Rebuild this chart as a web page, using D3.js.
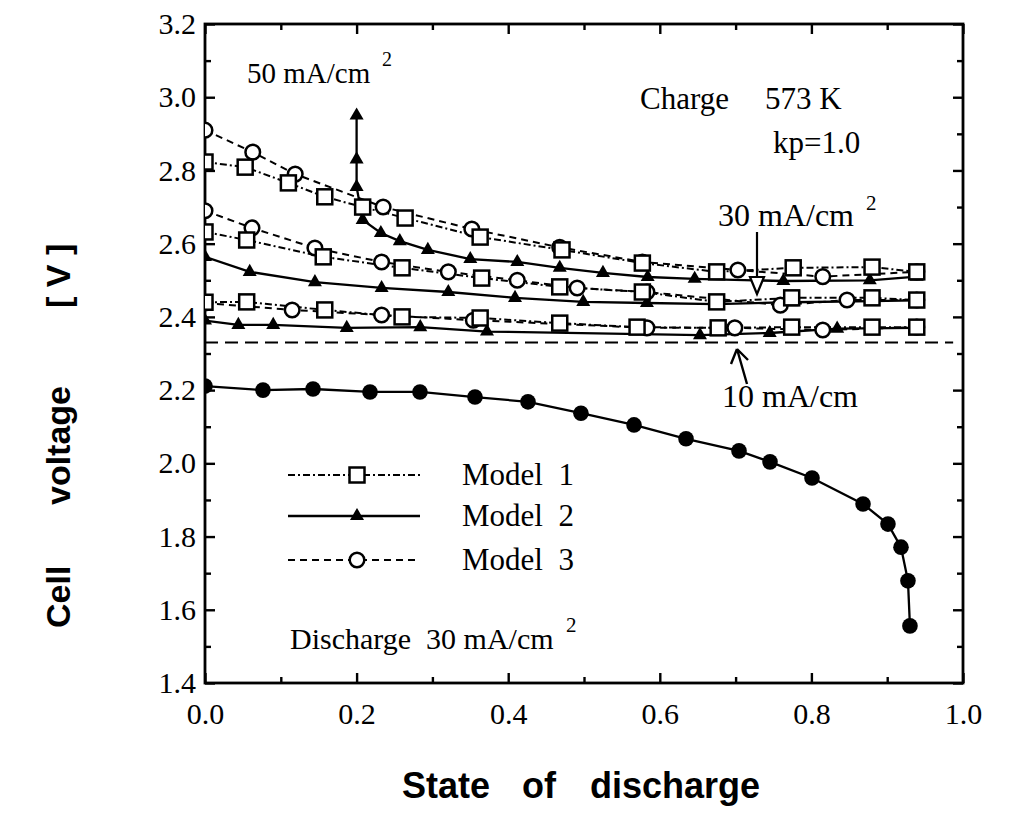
<!DOCTYPE html>
<html><head><meta charset="utf-8">
<script src="https://cdn.jsdelivr.net/npm/d3@7"></script>
<style>body{margin:0;background:#fff}svg{display:block}text{white-space:pre}</style>
</head><body>
<svg id="c" width="1010" height="828"></svg>
<script>
// ---- data ----
const xMajorTicks = [0, 0.2, 0.4, 0.6, 0.8, 1.0];
const xMinorTicks = [0.1, 0.3, 0.5, 0.7, 0.9];
const yMajorTicks = [1.4, 1.6, 1.8, 2.0, 2.2, 2.4, 2.6, 2.8, 3.0, 3.2];
const yMinorTicks = [1.5, 1.7, 1.9, 2.1, 2.3, 2.5, 2.7, 2.9, 3.1];

// Model 1 (squares, dash-dot)
const m1_50 = [[0,2.823],[0.053,2.809],[0.11,2.766],[0.158,2.728],[0.208,2.70],[0.264,2.67],[0.363,2.618],[0.471,2.583],[0.577,2.547],[0.675,2.523],[0.776,2.534],[0.880,2.536],[0.939,2.523]];
const m1_30 = [[0,2.632],[0.055,2.61],[0.156,2.564],[0.26,2.534],[0.365,2.506],[0.468,2.482],[0.577,2.468],[0.675,2.441],[0.774,2.452],[0.880,2.452],[0.939,2.446]];
const m1_10 = [[0,2.44],[0.055,2.441],[0.158,2.419],[0.26,2.40],[0.363,2.397],[0.468,2.383],[0.57,2.372],[0.677,2.37],[0.774,2.372],[0.88,2.372],[0.939,2.372]];
// Model 2 (triangles, solid)
const m2_50 = [[0.2,2.95],[0.2,2.83],[0.2,2.755],[0.208,2.665],[0.232,2.629],[0.257,2.607],[0.294,2.583],[0.350,2.558],[0.412,2.55],[0.468,2.534],[0.525,2.52],[0.584,2.509],[0.646,2.504],[0.763,2.498],[0.877,2.50],[0.939,2.51]];
const m2_30 = [[0,2.564],[0.059,2.523],[0.145,2.495],[0.233,2.479],[0.321,2.468],[0.409,2.452],[0.499,2.441],[0.583,2.438],[0.675,2.435],[0.774,2.44],[0.880,2.443],[0.939,2.445]];
const m2_10 = [[0,2.39],[0.044,2.378],[0.09,2.378],[0.187,2.37],[0.284,2.372],[0.372,2.36],[0.653,2.35],[0.745,2.356],[0.834,2.368],[0.939,2.37]];
// Model 3 (circles, dashed)
const m3_50 = [[0,2.91],[0.063,2.85],[0.119,2.79],[0.235,2.70],[0.352,2.64],[0.468,2.59],[0.577,2.55],[0.703,2.528],[0.815,2.51],[0.939,2.523]];
const m3_30 = [[0,2.69],[0.062,2.643],[0.145,2.588],[0.233,2.55],[0.321,2.523],[0.412,2.50],[0.491,2.479],[0.583,2.468],[0.759,2.432],[0.847,2.446],[0.939,2.446]];
const m3_10 = [[0,2.438],[0.115,2.419],[0.233,2.405],[0.354,2.391],[0.583,2.37],[0.699,2.37],[0.815,2.364],[0.939,2.372]];
// Discharge 30 mA/cm2 (filled circles, solid)
const discharge = [[0,2.211],[0.0765,2.20],[0.1425,2.203],[0.2177,2.195],[0.2836,2.195],[0.3562,2.181],[0.4261,2.168],[0.496,2.137],[0.566,2.105],[0.6346,2.067],[0.7045,2.034],[0.7454,2.004],[0.8008,1.96],[0.8681,1.889],[0.901,1.834],[0.9182,1.771],[0.9274,1.679],[0.930,1.556]];
// horizontal dashed reference line
const refLine = [[0,2.33],[0.987,2.33]];

const legendLabels = ["Model  1", "Model  2", "Model  3"];

// ---- drawing ----
const svg = d3.select("#c");
const X0 = 205, X1 = 963, Y0 = 683, Y1 = 24;
const x = d3.scaleLinear().domain([0, 1]).range([X0, X1]);
const y = d3.scaleLinear().domain([1.4, 3.2]).range([Y0, Y1]);

const serif = "'Liberation Serif','Times New Roman',serif";
const sans = "'Liberation Sans',Arial,sans-serif";

svg.append("defs").append("clipPath").attr("id","clip")
  .append("rect").attr("x",X0).attr("y",Y1).attr("width",X1-X0).attr("height",Y0-Y1);

function styleAxis(g){ g.select(".domain").remove(); g.selectAll("line").attr("stroke","#000").attr("stroke-width",2.4);
  g.selectAll("text").attr("font-family",serif).attr("font-size",30).attr("fill","#000"); }
svg.append("g").attr("transform",`translate(0,${Y0})`)
  .call(d3.axisBottom(x).tickValues(xMajorTicks).tickSizeInner(-10).tickSizeOuter(0).tickPadding(20).tickFormat(d3.format(".1f"))).call(styleAxis);
svg.append("g").attr("transform",`translate(0,${Y0})`)
  .call(d3.axisBottom(x).tickValues(xMinorTicks).tickSizeInner(-6).tickSizeOuter(0).tickFormat("")).call(styleAxis);
svg.append("g").attr("transform",`translate(0,${Y1})`)
  .call(d3.axisTop(x).tickValues(xMajorTicks).tickSizeInner(-10).tickSizeOuter(0).tickFormat("")).call(styleAxis);
svg.append("g").attr("transform",`translate(0,${Y1})`)
  .call(d3.axisTop(x).tickValues(xMinorTicks).tickSizeInner(-6).tickSizeOuter(0).tickFormat("")).call(styleAxis);
svg.append("g").attr("transform",`translate(${X0},0)`)
  .call(d3.axisLeft(y).tickValues(yMajorTicks).tickSizeInner(-10).tickSizeOuter(0).tickPadding(9).tickFormat(d3.format(".1f"))).call(styleAxis);
svg.append("g").attr("transform",`translate(${X0},0)`)
  .call(d3.axisLeft(y).tickValues(yMinorTicks).tickSizeInner(-6).tickSizeOuter(0).tickFormat("")).call(styleAxis);
svg.append("g").attr("transform",`translate(${X1},0)`)
  .call(d3.axisRight(y).tickValues(yMajorTicks).tickSizeInner(-10).tickSizeOuter(0).tickFormat("")).call(styleAxis);
svg.append("g").attr("transform",`translate(${X1},0)`)
  .call(d3.axisRight(y).tickValues(yMinorTicks).tickSizeInner(-6).tickSizeOuter(0).tickFormat("")).call(styleAxis);

svg.append("rect").attr("x",X0).attr("y",Y1).attr("width",X1-X0).attr("height",Y0-Y1)
  .attr("fill","none").attr("stroke","#000").attr("stroke-width",2.8);

const line = d3.line().x(d=>x(d[0])).y(d=>y(d[1]));
const plot = svg.append("g").attr("clip-path","url(#clip)");

const DASHDOT = "7,3,2,3", DASH = "7,5";
const series = [
  {data:m1_50, dash:DASHDOT, w:2, mk:"sq"},{data:m1_30, dash:DASHDOT, w:2, mk:"sq"},{data:m1_10, dash:DASHDOT, w:2, mk:"sq"},
  {data:m2_50, dash:null, w:2.3, mk:"tri"},{data:m2_30, dash:null, w:2.3, mk:"tri"},{data:m2_10, dash:null, w:2.3, mk:"tri"},
  {data:m3_50, dash:DASH, w:2, mk:"ci"},{data:m3_30, dash:DASH, w:2, mk:"ci"},{data:m3_10, dash:DASH, w:2, mk:"ci"},
  {data:discharge, dash:null, w:2.3, mk:"dot"}
];
plot.append("path").attr("d",line(refLine)).attr("fill","none").attr("stroke","#000").attr("stroke-width",2.2).attr("stroke-dasharray","13,7");
series.forEach(s=>{
  plot.append("path").attr("d",line(s.data)).attr("fill","none").attr("stroke","#000")
    .attr("stroke-width",s.w).attr("stroke-dasharray",s.dash);
});
const tri = d3.symbol().type(d3.symbolTriangle).size(85);
function drawMarkers(g, kind, pts){
  if(kind==="tri") g.selectAll(null).data(pts).join("path").attr("d",tri).attr("transform",d=>`translate(${x(d[0])},${y(d[1])})`).attr("fill","#000");
  if(kind==="ci") g.selectAll(null).data(pts).join("circle").attr("cx",d=>x(d[0])).attr("cy",d=>y(d[1])).attr("r",7.3).attr("fill","#fff").attr("stroke","#000").attr("stroke-width",2.5);
  if(kind==="sq") g.selectAll(null).data(pts).join("rect").attr("x",d=>x(d[0])-7.5).attr("y",d=>y(d[1])-7.5).attr("width",15).attr("height",15).attr("fill","#fff").attr("stroke","#000").attr("stroke-width",2.5);
  if(kind==="dot") g.selectAll(null).data(pts).join("circle").attr("cx",d=>x(d[0])).attr("cy",d=>y(d[1])).attr("r",7.8).attr("fill","#000");
}
["dot","tri","ci","sq"].forEach(k=>series.filter(s=>s.mk===k).forEach(s=>drawMarkers(plot,k,s.data)));

function txt(t,px,py,size,fam,anchor){ return svg.append("text").attr("x",px).attr("y",py).attr("font-family",fam||serif).attr("font-size",size).attr("text-anchor",anchor||"start").attr("fill","#000").text(t); }
txt("50 mA/cm",247,83,29); txt("2",382,66,20);
txt("Charge",640,109,31); txt("573 K",765,109,31);
txt("kp=1.0",773,153,31);
txt("30 mA/cm",718,226,32); txt("2",866,210,21);
txt("10 mA/cm",722,407,32);
txt("Discharge  30 mA/cm",290,649,30); txt("2",566,632,21);

// arrows
svg.append("line").attr("x1",757).attr("y1",232).attr("x2",757).attr("y2",278).attr("stroke","#000").attr("stroke-width",2.2);
svg.append("path").attr("d","M750,277 L764,277 L757,294 Z").attr("fill","#fff").attr("stroke","#000").attr("stroke-width",2.2);
svg.append("path").attr("d","M747,384 L737,349 M737,349 L731,364 M737,349 L748,360").attr("fill","none").attr("stroke","#000").attr("stroke-width",2.4);

// legend
const legY = [475, 516, 560];
const legKinds = [["sq",DASHDOT,2],["tri",null,2.3],["ci",DASH,2]];
legY.forEach((ly,i)=>{
  svg.append("line").attr("x1",288).attr("x2",420).attr("y1",ly).attr("y2",ly).attr("stroke","#000").attr("stroke-width",legKinds[i][2]).attr("stroke-dasharray",legKinds[i][1]);
  const g = svg.append("g");
  drawMarkers(g, legKinds[i][0], [[x.invert(357), y.invert(ly)]]);
  txt(legendLabels[i],462,ly+10,31);
});

// axis titles
[["State",402],["of",522],["discharge",590]].forEach(w=>txt(w[0],w[1],798,36,sans).attr("font-weight","bold"));
const yt = svg.append("g").attr("transform","translate(70,0) rotate(-90)");
[["Cell",-628],["voltage",-505],["[ V ]",-308]].forEach(w=>
  yt.append("text").attr("x",w[1]).attr("y",0).attr("font-family",sans).attr("font-size",34).attr("font-weight","bold").text(w[0]));
</script>
</body></html>
